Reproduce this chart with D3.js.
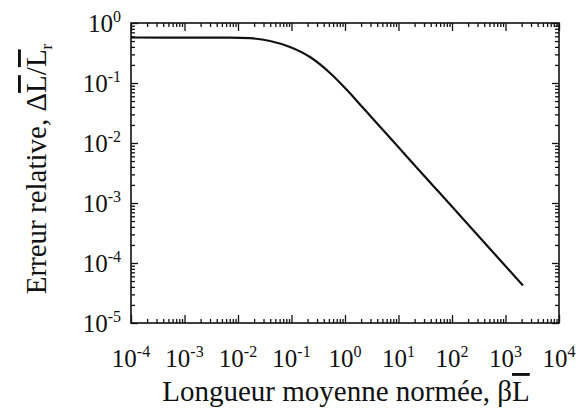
<!DOCTYPE html>
<html><head><meta charset="utf-8">
<script src="https://cdn.jsdelivr.net/npm/d3@7"></script>
<style>body{margin:0;background:#fff}svg{display:block}</style>
</head><body>
<svg id="c" width="582" height="413"></svg>
<script>
// data
const xValues = [0.0001, 0.00195, 0.00708, 0.0168, 0.0396, 0.0938, 0.222, 0.525, 1.09, 2.17, 9.38, 34.1, 59.7, 2120];
const yValues = [0.573, 0.572, 0.572, 0.558, 0.501, 0.398, 0.271, 0.147, 0.0764, 0.0386, 0.00908, 0.00251, 0.00145, 0.0000422];
const xTickExponents = [-4, -3, -2, -1, 0, 1, 2, 3, 4];
const yTickExponents = [-5, -4, -3, -2, -1, 0];
const xTitleText = "Longueur moyenne normée, β";
const yTitleText = "Erreur relative, Δ";

const FONT = '"Liberation Serif"';
const W = 582, H = 413;
const m = {l: 131, r: 23, t: 23, b: 90};
const svg = d3.select("#c");
const x = d3.scaleLog().domain([1e-4, 1e4]).range([m.l, W - m.r]);
const y = d3.scaleLog().domain([1e-5, 1]).range([H - m.b, m.t]);

const xMajor = xTickExponents.map(e => Math.pow(10, e));
const yMajor = yTickExponents.map(e => Math.pow(10, e));
const minors = (exps) => { const out = []; for (let i = 0; i < exps.length - 1; i++) for (let k = 2; k <= 9; k++) out.push(k * Math.pow(10, exps[i])); return out; };
const xMinor = minors(xTickExponents), yMinor = minors(yTickExponents);

function axis(gen, vals, size, tr) {
  const g = svg.append("g").attr("transform", tr).call(gen.tickValues(vals).tickSize(size).tickFormat(""));
  g.select(".domain").remove();
  g.selectAll(".tick line").attr("stroke", "#111").attr("stroke-width", 1.3);
}
const bottom = H - m.b, right = W - m.r;
axis(d3.axisBottom(x), xMajor, -8, `translate(0,${bottom})`);
axis(d3.axisBottom(x), xMinor, -4, `translate(0,${bottom})`);
axis(d3.axisTop(x), xMajor, -8, `translate(0,${m.t})`);
axis(d3.axisTop(x), xMinor, -4, `translate(0,${m.t})`);
axis(d3.axisLeft(y), yMajor, -7, `translate(${m.l},0)`);
axis(d3.axisLeft(y), yMinor, -4, `translate(${m.l},0)`);
axis(d3.axisRight(y), yMajor, -7, `translate(${right},0)`);
axis(d3.axisRight(y), yMinor, -4, `translate(${right},0)`);

svg.append("rect").attr("x", m.l).attr("y", m.t).attr("width", right - m.l).attr("height", bottom - m.t)
  .attr("fill", "none").attr("stroke", "#111").attr("stroke-width", 1.6);

// curve
const line = d3.line().x((d, i) => x(xValues[i])).y((d, i) => y(yValues[i])).curve(d3.curveMonotoneX);
svg.append("path").attr("d", line(xValues)).attr("fill", "none").attr("stroke", "#111").attr("stroke-width", 2.2);

function txt(sel) { return sel.style("font-family", FONT).attr("fill", "#111"); }

// tick labels
xTickExponents.forEach(e => {
  const t = txt(svg.append("text")).attr("x", x(Math.pow(10, e))).attr("y", 367).attr("text-anchor", "middle").attr("font-size", 25);
  t.append("tspan").text("10");
  t.append("tspan").attr("dy", -10).attr("font-size", 16).text(String(e));
});
yTickExponents.forEach(e => {
  const t = txt(svg.append("text")).attr("x", 121).attr("y", y(Math.pow(10, e)) + 9).attr("text-anchor", "end").attr("font-size", 25);
  t.append("tspan").text("10");
  t.append("tspan").attr("dy", -10).attr("font-size", 16).text(String(e));
});

// titles
const xt = txt(svg.append("text")).attr("x", 346).attr("y", 401).attr("text-anchor", "middle").attr("font-size", 29);
xt.append("tspan").text(xTitleText);
xt.append("tspan").style("text-decoration", "overline").text("L");

const yt = txt(svg.append("text")).attr("transform", "translate(46,169) rotate(-90)").attr("text-anchor", "middle").attr("font-size", 29);
yt.append("tspan").text(yTitleText);
yt.append("tspan").style("text-decoration", "overline").text("L");
yt.append("tspan").text("/");
yt.append("tspan").style("text-decoration", "overline").text("L");
yt.append("tspan").attr("font-size", 17).attr("dy", 6).text("r");
</script>
</body></html>
